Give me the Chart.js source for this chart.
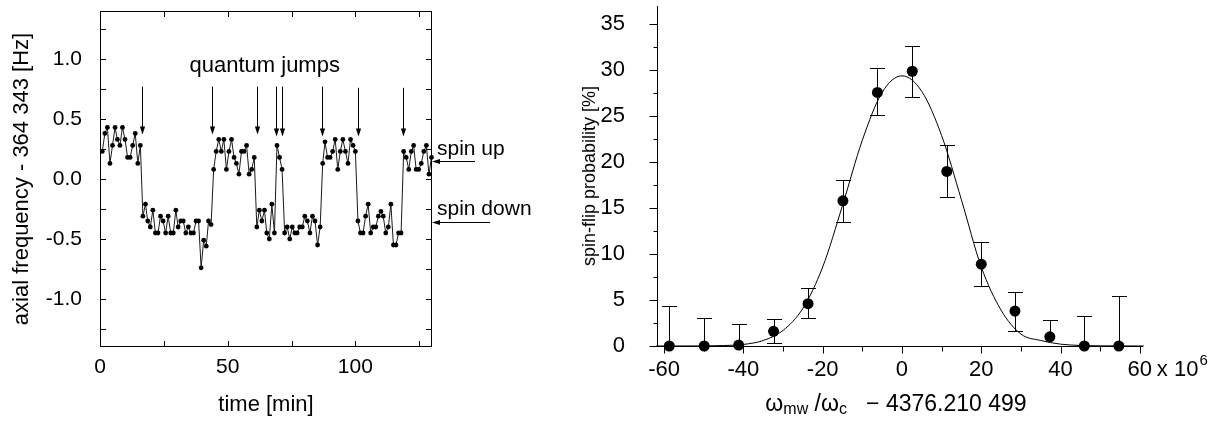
<!DOCTYPE html>
<html>
<head>
<meta charset="utf-8">
<script src="https://cdn.jsdelivr.net/npm/chart.js@4.4.1/dist/chart.umd.min.js"></script>
<style>
  html, body { margin: 0; padding: 0; background: #fff; }
  body { width: 1223px; height: 421px; position: relative; overflow: hidden; }
  canvas { position: absolute; top: 0; }
  #jumpChart { left: 0; }
  #resonanceChart { left: 560px; }
</style>
</head>
<body>
<canvas id="jumpChart" width="560" height="421"></canvas>
<canvas id="resonanceChart" width="663" height="421"></canvas>
<script>
// left panel: axial frequency trace (one reading per minute)
const timeMin = [
  0.9, 1.9, 2.9, 3.9, 4.9, 5.9, 6.8, 7.8, 8.8, 9.8, 10.8, 11.8, 12.8, 13.8, 14.8, 15.8,
  16.8, 17.8, 18.7, 19.7, 20.7, 21.7, 22.7, 23.7, 24.7, 25.7, 26.7, 27.7, 28.7, 29.7,
  30.6, 31.6, 32.6, 33.6, 34.6, 35.6, 36.6, 37.6, 38.6, 39.6, 40.6, 41.6, 42.5, 43.5,
  44.5, 45.5, 46.5, 47.5, 48.5, 49.5, 50.5, 51.5, 52.5, 53.4, 54.4, 55.4, 56.4, 57.4,
  58.4, 59.4, 60.4, 61.4, 62.4, 63.4, 64.4, 65.3, 66.3, 67.3, 68.3, 69.3, 70.3, 71.3,
  72.3, 73.3, 74.3, 75.3, 76.3, 77.2, 78.2, 79.2, 80.2, 81.2, 82.2, 83.2, 84.2, 85.2,
  86.2, 87.2, 88.1, 89.1, 90.1, 91.1, 92.1, 93.1, 94.1, 95.1, 96.1, 97.1, 98.1, 99.1,
  100.0, 101.0, 102.0, 103.0, 104.0, 105.0, 106.0, 107.0, 108.0, 109.0, 110.0, 110.9,
  111.9, 112.9, 113.9, 114.9, 115.9, 116.9, 117.9, 118.9, 119.9, 120.9, 121.9, 122.8,
  123.8, 124.8, 125.8, 126.8, 127.8, 128.8, 129.8
];
const axialFreq = [
  0.23, 0.38, 0.43, 0.13, 0.28, 0.43, 0.33, 0.28, 0.43, 0.33, 0.18, 0.18, 0.28, 0.38, 0.13, 0.28,
  -0.31, -0.21, -0.35, -0.40, -0.26, -0.45, -0.45, -0.31, -0.35, -0.45, -0.31, -0.45, -0.45, -0.26,
  -0.40, -0.35, -0.35, -0.45, -0.40, -0.45, -0.45, -0.35, -0.35, -0.74, -0.51, -0.56, -0.35, -0.38,
  0.08, 0.23, 0.33, 0.23, 0.33, 0.08, 0.23, 0.33, 0.18, 0.13, 0.04, 0.23, 0.23, 0.28, 0.04, 0.08, 0.18,
  -0.40, -0.26, -0.35, -0.26, -0.45, -0.50, -0.21, -0.45,
  0.28, 0.18, 0.08,
  -0.45, -0.40, -0.50, -0.40, -0.45, -0.45, -0.40, -0.40, -0.31, -0.35, -0.45, -0.31, -0.35, -0.55, -0.40,
  0.13, 0.31, 0.18, 0.18, 0.23, 0.33, 0.08, 0.23, 0.33, 0.23, 0.13, 0.33, 0.28, 0.23,
  -0.35, -0.45, -0.45, -0.31, -0.21, -0.45, -0.40, -0.40, -0.31, -0.27, -0.31, -0.45, -0.40, -0.21,
  -0.55, -0.55, -0.45, -0.45,
  0.23, 0.18, 0.08, 0.23, 0.28, 0.08, 0.08, 0.13, 0.23, 0.28, 0.04, 0.18
];
const jumpTimes = [16.3, 43.9, 61.5, 69.0, 71.2, 87.0, 101.2, 118.5];

// right panel: spin-flip resonance
const detuning = [-58.7, -49.9, -41.2, -32.4, -23.7, -14.9, -6.2, 2.6, 11.3, 20.0, 28.5, 37.3, 46.0, 54.7];
const flipProb = [0, 0, 0.1, 1.6, 4.6, 15.8, 27.6, 29.9, 19.0, 8.9, 3.8, 1.0, 0, 0];
const errHigh = [4.4, 3.0, 2.4, 2.9, 6.3, 18.1, 30.2, 32.6, 21.9, 11.3, 5.9, 2.8, 3.3, 5.4];
const errLow = [null, null, null, 0.35, 3.0, 13.5, 25.1, 27.1, 16.2, 6.5, 1.6, null, null, null];
const fitX = [-62, -50, -45, -40, -35, -30, -25, -20, -15, -10, -5, 0, 5, 10, 15, 20, 25, 30, 35, 40, 45, 50, 61];
const fitY = [0, 0.01, 0.05, 0.17, 0.6, 1.7, 4.1, 8.6, 15.3, 22.4, 27.6, 29.4, 27.7, 22.9, 15.9, 8.6, 3.9, 1.3, 0.6, 0.2, 0.06, 0.02, 0];

Chart.defaults.font.family = "'Liberation Sans', Arial, sans-serif";
Chart.defaults.color = "#000";

// keep the plot area where we put it: no extra room for overhanging tick labels
function fixBox(size, prop) {
  return (s) => {
    s[prop] = size;
    s.paddingTop = 0; s.paddingBottom = 0;
    s.paddingLeft = 0; s.paddingRight = 0;
  };
}

function arrowHead(ctx, x, y, dx, dy) {
  // filled head with its tip at (x, y), pointing along (dx, dy)
  const len = 8, half = 2.6;
  const bx = x - dx * len, by = y - dy * len;
  ctx.beginPath();
  ctx.moveTo(x, y);
  ctx.lineTo(bx - dy * half, by + dx * half);
  ctx.lineTo(bx + dy * half, by - dx * half);
  ctx.closePath();
  ctx.fill();
}

const jumpDecor = {
  id: "jumpDecor",
  afterDraw(chart) {
    const { ctx, chartArea: a, scales: { x, y } } = chart;
    ctx.save();
    ctx.strokeStyle = "#000";
    ctx.fillStyle = "#000";
    ctx.lineWidth = 1;
    ctx.strokeRect(a.left + 0.5, a.top + 0.5, a.right - a.left - 1, a.bottom - a.top - 1);

    // inward ticks on all four sides
    ctx.beginPath();
    for (let v = 25; v < 130; v += 25) {
      const px = Math.round(x.getPixelForValue(v)) + 0.5;
      ctx.moveTo(px, a.bottom); ctx.lineTo(px, a.bottom - 6);
      ctx.moveTo(px, a.top); ctx.lineTo(px, a.top + 6);
    }
    for (let v = -1.25; v <= 1.25; v += 0.25) {
      const py = Math.round(y.getPixelForValue(v)) + 0.5;
      ctx.moveTo(a.left, py); ctx.lineTo(a.left + 6, py);
      ctx.moveTo(a.right, py); ctx.lineTo(a.right - 6, py);
    }
    ctx.stroke();

    // quantum jump markers
    jumpTimes.forEach((t, i) => {
      const px = Math.round(x.getPixelForValue(t)) + 0.5;
      const top = y.getPixelForValue(i >= 6 ? 0.76 : 0.77);
      const tip = y.getPixelForValue(i >= 3 ? 0.355 : 0.37);
      ctx.beginPath();
      ctx.moveTo(px, top); ctx.lineTo(px, tip - 6);
      ctx.stroke();
      arrowHead(ctx, px, tip, 0, 1);
    });

    ctx.font = "22px 'Liberation Sans', Arial, sans-serif";
    ctx.textAlign = "center";
    ctx.textBaseline = "middle";
    ctx.fillText("quantum jumps", x.getPixelForValue(64.5), y.getPixelForValue(0.94));

    // spin state labels to the right of the frame
    ctx.font = "21px 'Liberation Sans', Arial, sans-serif";
    ctx.textAlign = "left";
    ctx.fillText("spin up", a.right + 5, y.getPixelForValue(0.25));
    ctx.fillText("spin down", a.right + 5, y.getPixelForValue(-0.25));
    [[0.15, 43], [-0.36, 58]].forEach(([v, len]) => {
      const py = Math.round(y.getPixelForValue(v)) + 0.5;
      ctx.beginPath();
      ctx.moveTo(a.right + len, py); ctx.lineTo(a.right + 6, py);
      ctx.stroke();
      arrowHead(ctx, a.right, py, -1, 0);
    });
    ctx.restore();
  }
};

new Chart(document.getElementById("jumpChart"), {
  type: "line",
  data: {
    datasets: [{
      data: timeMin.map((t, i) => ({ x: t, y: axialFreq[i] })),
      borderColor: "#1a1a1a",
      borderWidth: 1,
      pointRadius: 2.4,
      pointBackgroundColor: "#000",
      pointBorderWidth: 0,
      tension: 0,
      clip: false
    }]
  },
  options: {
    responsive: false,
    animation: false,
    devicePixelRatio: 1,
    layout: { padding: { top: 11, right: 128, left: 0, bottom: 0 } },
    plugins: { legend: { display: false }, tooltip: { enabled: false } },
    scales: {
      x: {
        type: "linear",
        min: 0,
        max: 130,
        afterFit: fixBox(74, "height"),
        grid: { display: false },
        border: { display: false },
        ticks: { stepSize: 50, includeBounds: false, padding: 0, font: { size: 21 } },
        title: { display: true, text: "time [min]", font: { size: 22 }, padding: { top: 0, bottom: 3 } }
      },
      y: {
        min: -1.4,
        max: 1.4,
        afterFit: fixBox(100, "width"),
        grid: { display: false },
        border: { display: false },
        ticks: { stepSize: 0.5, includeBounds: false, padding: 10, font: { size: 21 },
                 callback: (v) => v.toFixed(1) },
        title: { display: true, text: "axial frequency - 364 343 [Hz]", font: { size: 22 }, padding: { top: 9, bottom: 0 } }
      }
    }
  },
  plugins: [jumpDecor]
});

const resonanceDecor = {
  id: "resonanceDecor",
  beforeDatasetsDraw(chart) {
    const { ctx, scales: { x, y } } = chart;
    ctx.save();
    ctx.strokeStyle = "#000";
    ctx.lineWidth = 1;
    ctx.beginPath();
    detuning.forEach((d, i) => {
      const px = Math.round(x.getPixelForValue(d)) + 0.5;
      const hi = Math.round(y.getPixelForValue(errHigh[i])) + 0.5;
      const lo = Math.round(y.getPixelForValue(errLow[i] ?? flipProb[i])) + 0.5;
      ctx.moveTo(px, lo); ctx.lineTo(px, hi);
      ctx.moveTo(px - 7.5, hi); ctx.lineTo(px + 7.5, hi);
      if (errLow[i] !== null) { ctx.moveTo(px - 7.5, lo); ctx.lineTo(px + 7.5, lo); }
    });
    ctx.stroke();
    ctx.restore();
  },
  afterDraw(chart) {
    const { ctx, chartArea: a, scales: { x, y } } = chart;
    ctx.save();
    ctx.strokeStyle = "#000";
    ctx.fillStyle = "#000";
    ctx.lineWidth = 1;
    ctx.beginPath();
    const left = Math.round(a.left) + 0.5, bottom = Math.round(a.bottom) + 0.5;
    ctx.moveTo(left, a.top); ctx.lineTo(left, bottom);
    ctx.moveTo(left, bottom); ctx.lineTo(a.right, bottom);
    for (let v = 0; v <= 35; v += 2.5) {
      const py = Math.round(y.getPixelForValue(v)) + 0.5;
      ctx.moveTo(left, py); ctx.lineTo(left - (v % 5 === 0 ? 8 : 4), py);
    }
    for (let v = -60; v <= 60; v += 10) {
      const px = Math.round(x.getPixelForValue(v)) + 0.5;
      ctx.moveTo(px, bottom); ctx.lineTo(px, bottom + (v % 20 === 0 ? 7 : 5));
    }
    ctx.stroke();

    // scale factor after the last tick label
    const lx = x.getPixelForValue(60) + 17;
    ctx.textBaseline = "middle";
    ctx.textAlign = "left";
    ctx.font = "22px 'Liberation Sans', Arial, sans-serif";
    ctx.fillText("x 10", lx, 370);
    const w = ctx.measureText("x 10").width;
    ctx.font = "15px 'Liberation Sans', Arial, sans-serif";
    ctx.fillText("6", lx + w + 1, 361);

    // x axis title with subscripts
    const parts = [["\u03c9", 23, 0], ["mw", 16, 5], [" /\u03c9", 23, 0], ["c", 16, 5], ["   \u2212 4376.210 499", 23, 0]];
    let total = 0;
    parts.forEach((p) => { ctx.font = p[1] + "px 'Liberation Sans', Arial, sans-serif"; total += ctx.measureText(p[0]).width; });
    let tx = (a.left + a.right) / 2 - 4 - total / 2;
    parts.forEach((p) => {
      ctx.font = p[1] + "px 'Liberation Sans', Arial, sans-serif";
      ctx.fillText(p[0], tx, 405 + p[2]);
      tx += ctx.measureText(p[0]).width;
    });
    ctx.restore();
  }
};

new Chart(document.getElementById("resonanceChart"), {
  type: "scatter",
  data: {
    datasets: [
      {
        data: fitX.map((v, i) => ({ x: v, y: fitY[i] })),
        showLine: true,
        borderColor: "#000",
        borderWidth: 1,
        pointRadius: 0,
        cubicInterpolationMode: "monotone",
        clip: false
      },
      {
        data: detuning.map((v, i) => ({ x: v, y: flipProb[i] })),
        pointRadius: 5.5,
        pointBackgroundColor: "#000",
        pointBorderWidth: 0,
        clip: false
      }
    ]
  },
  options: {
    responsive: false,
    animation: false,
    devicePixelRatio: 1,
    layout: { padding: { top: 6, right: 80, left: 0, bottom: 0 } },
    plugins: { legend: { display: false }, tooltip: { enabled: false } },
    scales: {
      x: {
        type: "linear",
        min: -61.8,
        max: 60.8,
        afterFit: fixBox(75, "height"),
        grid: { display: false },
        border: { display: false },
        ticks: { stepSize: 20, includeBounds: false, padding: 3, font: { size: 22 } }
      },
      y: {
        min: 0,
        max: 37,
        afterFit: fixBox(97, "width"),
        grid: { display: false },
        border: { display: false },
        ticks: { stepSize: 5, includeBounds: false, padding: 24, font: { size: 22 } },
        title: { display: true, text: "spin-flip probability [%]", font: { size: 18 }, padding: { top: 19, bottom: 0 } }
      }
    }
  },
  plugins: [resonanceDecor]
});
</script>
</body>
</html>
